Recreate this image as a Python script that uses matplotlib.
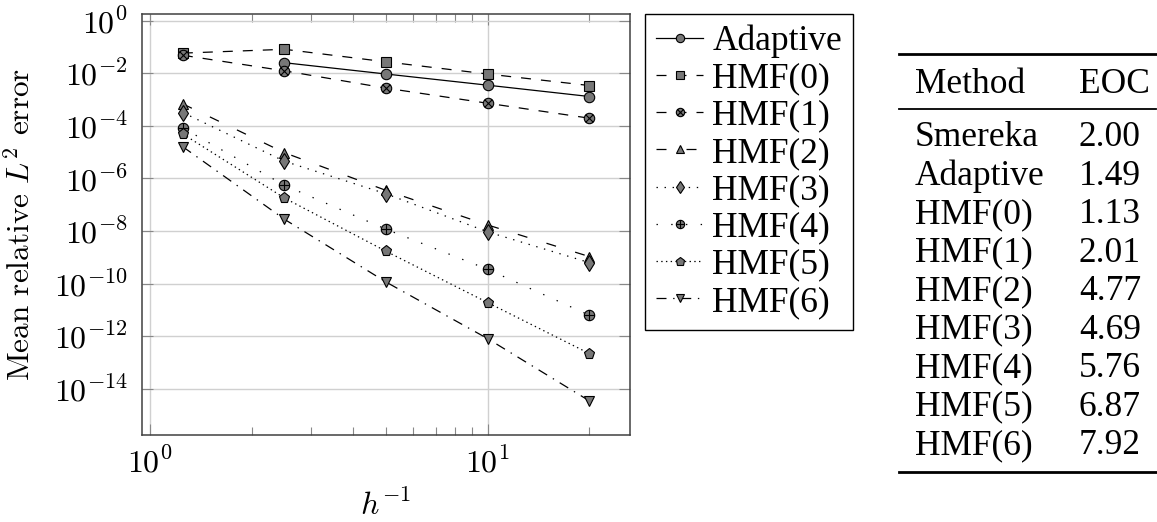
import matplotlib
matplotlib.use('Agg')
import matplotlib.pyplot as plt
from matplotlib.path import Path
from matplotlib.lines import Line2D
from matplotlib.ticker import FixedLocator, FuncFormatter, NullLocator
import numpy as np

plt.rcParams['mathtext.fontset'] = 'cm'
plt.rcParams['lines.scale_dashes'] = False

# data
h_inv = [1.25, 2.5, 5, 10, 20]
h_inv_adaptive = [2.5, 5, 10, 20]
err_adaptive = [2.5e-2, 9.3e-3, 3.5e-3, 1.3e-3]
err_hmf0 = [5.8e-2, 8.1e-2, 2.7e-2, 9.3e-3, 3.4e-3]
err_hmf1 = [4.8e-2, 1.23e-2, 2.7e-3, 7.2e-4, 1.95e-4]
err_hmf2 = [6.8e-4, 9.5e-6, 3.5e-7, 1.7e-8, 1.07e-9]
err_hmf3 = [3.2e-4, 4.5e-6, 2.6e-7, 9.3e-9, 6.3e-10]
err_hmf4 = [8.3e-5, 5.5e-7, 1.17e-8, 3.5e-10, 6.3e-12]
err_hmf5 = [4.9e-5, 1.8e-7, 1.7e-9, 1.9e-11, 2.2e-13]
err_hmf6 = [1.6e-5, 2.8e-8, 1.15e-10, 8.1e-13, 3.5e-15]

table_methods = ['Smereka', 'Adaptive', 'HMF(0)', 'HMF(1)', 'HMF(2)',
                 'HMF(3)', 'HMF(4)', 'HMF(5)', 'HMF(6)']
table_eoc = ['2.00', '1.49', '1.13', '2.01', '4.77', '4.69', '5.76', '6.87', '7.92']

# circle with cross / plus markers
circ = Path.unit_circle()
r = 0.7071
cross = Path([[-r, -r], [r, r], [-r, r], [r, -r]],
             [Path.MOVETO, Path.LINETO, Path.MOVETO, Path.LINETO])
plus = Path([[-1, 0], [1, 0], [0, -1], [0, 1]],
            [Path.MOVETO, Path.LINETO, Path.MOVETO, Path.LINETO])
otimes = Path.make_compound_path(circ, cross)
oplus = Path.make_compound_path(circ, plus)

series = [
    ('Adaptive', h_inv_adaptive, err_adaptive, 'o', '-', 7.5),
    ('HMF(0)', h_inv, err_hmf0, 's', (0, (7.2, 7.2)), 7.5),
    ('HMF(1)', h_inv, err_hmf1, otimes, (0, (7.2, 7.2)), 7.5),
    ('HMF(2)', h_inv, err_hmf2, '^', (0, (7.2, 14.4)), 7.5),
    ('HMF(3)', h_inv, err_hmf3, 'd', (0, (1, 4.8)), 8),
    ('HMF(4)', h_inv, err_hmf4, oplus, (0, (1, 9.6)), 7.5),
    ('HMF(5)', h_inv, err_hmf5, 'p', (0, (1, 2.4)), 8),
    ('HMF(6)', h_inv, err_hmf6, 'v', (0, (7.2, 4.8, 1, 4.8)), 7.5),
]

W, H = 1157, 522
fig = plt.figure(figsize=(W / 100, H / 100), dpi=100)
ax = fig.add_axes([142 / W, (H - 435) / H, (630 - 142) / W, (435 - 14) / H])

handles = []
for name, xs, ys, mk, ls, ms in series:
    ln, = ax.plot(xs, ys, color='black', lw=0.9, linestyle=ls, marker=mk,
                  markersize=ms, markerfacecolor='#777777',
                  markeredgecolor='black', markeredgewidth=0.8,
                  label=name, zorder=3)
    handles.append(ln)

ax.set_xscale('log')
ax.set_yscale('log')
ax.set_xlim(10 ** -0.024, 10 ** 1.421)
ax.set_ylim(10 ** -15.75, 10 ** 0.25)

ax.yaxis.set_major_locator(FixedLocator([10.0 ** k for k in range(0, -15, -2)]))
ax.yaxis.set_minor_locator(NullLocator())
ax.yaxis.set_major_formatter(FuncFormatter(lambda v, p: r'$10^{%d}$' % round(np.log10(v))))
ax.xaxis.set_major_locator(FixedLocator([1, 10]))
ax.xaxis.set_minor_locator(FixedLocator([2, 3, 4, 5, 6, 7, 8, 9, 20]))
ax.xaxis.set_major_formatter(FuncFormatter(lambda v, p: r'$10^{%d}$' % round(np.log10(v))))
ax.xaxis.set_minor_formatter(FuncFormatter(lambda v, p: ''))

ax.tick_params(which='both', direction='in', top=True, right=True,
               color='#888888', labelsize=23)
ax.tick_params(which='major', length=8, width=0.8)
ax.tick_params(which='minor', length=5.5, width=0.8)
ax.tick_params(axis='y', pad=10)
ax.tick_params(axis='x', pad=9)

ax.grid(True, which='major', color='#d0d0d0', lw=1)
ax.set_axisbelow(True)
for s in ax.spines.values():
    s.set_color('#404040')
    s.set_linewidth(1.1)

ax.set_ylabel(r'Mean relative $L^2$ error', fontsize=22.5, family='cmr10')
ax.yaxis.set_label_coords(-0.215, 0.5)
ax.set_xlabel(r'$h^{-1}$', fontsize=23)
ax.xaxis.set_label_coords(0.5, -0.13)

leg = fig.legend(handles=handles, loc='upper left',
                 bbox_to_anchor=(645 / W, 1 - 14 / H), bbox_transform=fig.transFigure,
                 borderaxespad=0, fancybox=False, framealpha=1, edgecolor='black',
                 prop={'family': 'Liberation Serif', 'size': 25.5},
                 handlelength=1.35, handletextpad=0.25, borderpad=0.3,
                 labelspacing=0.12, markerscale=0.8)
leg.get_frame().set_linewidth(1.0)

# table on the right
def fx(px):
    return px / W

def fy(py):
    return 1 - py / H

tfont = {'family': 'Liberation Serif', 'size': 25.5}
for yy, lw in [(54.3, 2.0), (109.3, 1.3), (472.3, 2.0)]:
    fig.add_artist(Line2D([fx(899), fx(1156)], [fy(yy), fy(yy)], color='black', lw=lw))
fig.text(fx(915), fy(92.7), 'Method', va='baseline', ha='left', **tfont)
fig.text(fx(1079), fy(92.7), 'EOC', va='baseline', ha='left', **tfont)
for i, (m, e) in enumerate(zip(table_methods, table_eoc)):
    yb = 146 + i * 38.54
    fig.text(fx(915), fy(yb), m, va='baseline', ha='left', **tfont)
    fig.text(fx(1079), fy(yb), e, va='baseline', ha='left', **tfont)

fig.savefig('out.png', dpi=100)
